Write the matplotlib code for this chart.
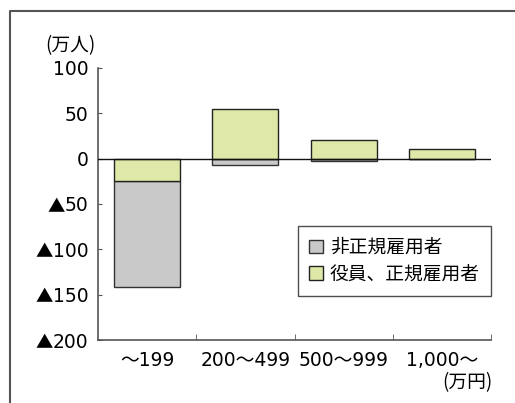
import numpy as np
import matplotlib.pyplot as plt
from matplotlib.lines import Line2D

plt.rcParams['font.family'] = ['Noto Sans CJK JP', 'DejaVu Sans']

categories = ['～199', '200～499', '500～999', '1,000～']
hiseiki = [-116, -7, -3, 0]        # 非正規雇用者
seiki = [-25, 55, 21, 11]          # 役員、正規雇用者
yticks = [100, 50, 0, -50, -100, -150, -200]
ylabels = ['100', '50', '0', '50', '100', '150', '200']   # 負の値は▲を前に付ける

gray = '#c8c9c8'
green = '#dfe8a8'
num_font = ['DejaVu Sans', 'Noto Sans CJK JP']

fig = plt.figure(figsize=(5.15, 4.03), dpi=100)
ax = fig.add_axes([98 / 515, 1 - 340 / 403, 393 / 515, 272 / 403])

x = np.arange(len(categories))
w = 0.67
hiseiki = np.array(hiseiki)
seiki = np.array(seiki)
# negative gray stacks under negative green
hiseiki_bottom = np.where((hiseiki < 0) & (seiki < 0), seiki, 0)

ax.bar(x, hiseiki, w, bottom=hiseiki_bottom, color=gray, edgecolor='#333333',
       linewidth=1, label='非正規雇用者', zorder=2)
ax.bar(x, seiki, w, color=green, edgecolor='#222222',
       linewidth=1, label='役員、正規雇用者', zorder=2)
ax.axhline(0, color='#111111', linewidth=1, zorder=3)

ax.set_xlim(-0.5, 3.5)
ax.set_ylim(-200, 100)
ax.set_yticks(yticks)
ax.set_yticklabels(ylabels, family='DejaVu Sans', fontsize=13.5)
ax.set_xticks(x)
ax.set_xticklabels(categories, family=num_font, fontsize=13.5)
ax.set_xticks([0.5, 1.5, 2.5, 3.5], minor=True)
ax.tick_params(axis='x', which='major', length=0, pad=8)
ax.tick_params(axis='x', which='minor', direction='in', length=4, color='#555555')
ax.tick_params(axis='y', direction='in', length=3, pad=7, color='#555555')
for s in ['top', 'right']:
    ax.spines[s].set_visible(False)
for s in ['left', 'bottom']:
    ax.spines[s].set_color('#555555')
    ax.spines[s].set_linewidth(1.2)

leg = ax.legend(loc='upper right', bbox_to_anchor=(1.0, 0.42), fontsize=13.5,
                frameon=True, fancybox=False, edgecolor='#222222',
                handlelength=0.75, handleheight=0.75, handletextpad=0.35,
                labelspacing=0.3, borderpad=0.6, borderaxespad=0.0)
leg.get_frame().set_linewidth(1)

fig.text(45 / 515, 1 - 46 / 403, '(万人)', fontsize=13.5, va='center', ha='left')
fig.text(493 / 515, 1 - 383 / 403, '(万円)', fontsize=13.5, va='center', ha='right')

# ▲ marks in front of the negative tick labels
fig.canvas.draw()
W, H = fig.bbox.width, fig.bbox.height
for lab, v in zip(ax.get_yticklabels(), yticks):
    if v < 0:
        bb = lab.get_window_extent()
        ypix = lab.get_transform().transform(lab.get_position())[1] - 1
        fig.text(bb.x0 / W, ypix / H, '▲', ha='right', va='center_baseline',
                 fontsize=12.5, family='Noto Sans CJK JP')

# outer frame (left and top only)
fig.add_artist(Line2D([10 / 515, 10 / 515, 1.0], [0.0, 1 - 11 / 403, 1 - 11 / 403],
                      transform=fig.transFigure, color='#555555', linewidth=1.5))

fig.savefig('out.png', dpi=100)
